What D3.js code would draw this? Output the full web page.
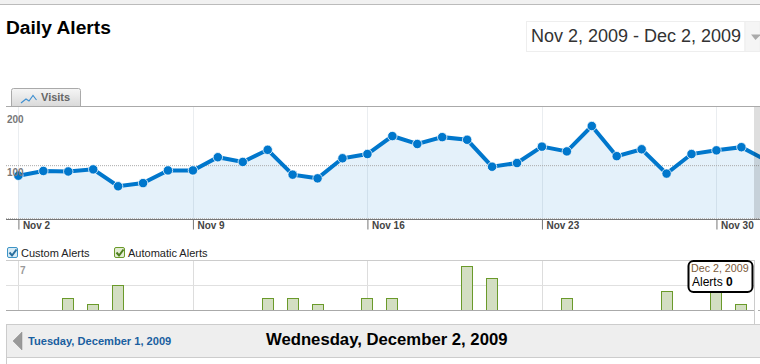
<!DOCTYPE html>
<html>
<head>
<meta charset="utf-8">
<script src="https://cdn.jsdelivr.net/npm/d3@7"></script>
<style>
    html, body { margin: 0; padding: 0; background: #fff; overflow: hidden; }
    svg { display: block; font-family: "Liberation Sans", Arial, sans-serif; }
</style>
</head>
<body>
<div id="chart"></div>
<script>
const days = ["Nov 2", "Nov 3", "Nov 4", "Nov 5", "Nov 6", "Nov 7", "Nov 8", "Nov 9", "Nov 10", "Nov 11",
              "Nov 12", "Nov 13", "Nov 14", "Nov 15", "Nov 16", "Nov 17", "Nov 18", "Nov 19", "Nov 20", "Nov 21",
              "Nov 22", "Nov 23", "Nov 24", "Nov 25", "Nov 26", "Nov 27", "Nov 28", "Nov 29", "Nov 30", "Dec 1", "Dec 2"];
const visits = [81, 90, 89, 93, 61, 67, 91, 91, 116, 107,
                130, 83, 76, 114, 122, 156, 141, 154, 149, 98,
                105, 136, 127, 175, 118, 131, 85, 122, 129, 135, 110];
const alerts = [0, 0, 2, 1, 4, 0, 0, 0, 0, 0,
                2, 2, 1, 0, 2, 2, 0, 0, 7, 5,
                0, 0, 2, 0, 0, 0, 3, 0, 3, 1, 0];
const weekTicks = ["Nov 2", "Nov 9", "Nov 16", "Nov 23", "Nov 30"];
const visitTicks = [100, 200];
const alertTicks = [7];
const visitMax = 212;
const alertMax = 7.78;

const width = 760;
const height = 364;

const svg = d3.select("#chart").append("svg")
              .attr("width", width)
              .attr("height", height);

const defs = svg.append("defs");
const tabGrad = defs.append("linearGradient")
                    .attr("id", "tabGrad")
                    .attr("x1", 0).attr("x2", 0).attr("y1", 0).attr("y2", 1);
tabGrad.append("stop").attr("offset", "0%").attr("stop-color", "#f6f6f6");
tabGrad.append("stop").attr("offset", "100%").attr("stop-color", "#d9d9d9");

const xScale = d3.scalePoint()
                 .domain(days)
                 .range([18.4, 766.3]);

const yScale = d3.scaleLinear()
                 .domain([0, visitMax])
                 .range([218.5, 106.5]);

const barScale = d3.scaleLinear()
                   .domain([0, alertMax])
                   .range([310.5, 260.5]);

// page header
svg.append("rect").attr("width", width).attr("height", 4).attr("fill", "#f1f1f1");
svg.append("line").attr("x1", 0).attr("x2", width).attr("y1", 4.5).attr("y2", 4.5).attr("stroke", "#bbb");

svg.append("text")
    .attr("x", 6).attr("y", 34)
    .attr("font-size", 19.2).attr("font-weight", "bold").attr("fill", "#000")
    .text("Daily Alerts");

// date range picker
svg.append("rect").attr("x", 526.5).attr("y", 21.5).attr("width", 218.5).attr("height", 30)
    .attr("fill", "#fff").attr("stroke", "#eee");
svg.append("rect").attr("x", 745).attr("y", 21.5).attr("width", 15).attr("height", 30)
    .attr("fill", "#f5f5f5").attr("stroke", "#eee");
svg.append("text")
    .attr("x", 531).attr("y", 42)
    .attr("font-size", 18).attr("fill", "#333")
    .text("Nov 2, 2009 - Dec 2, 2009");
svg.append("path").attr("d", "M751,34.5L760,34.5L760,35.5L755.5,40Z").attr("fill", "#aaa");

// Visits tab
svg.append("path")
    .attr("d", "M11.5,106.5V90.5Q11.5,88.5 13.5,88.5H78.5Q80.5,88.5 80.5,90.5V106.5")
    .attr("fill", "url(#tabGrad)").attr("stroke", "#aaa");
svg.append("path")
    .attr("d", "M21,103L26,99L29,101L33,95.5L36.5,100")
    .attr("fill", "none").attr("stroke", "#3d8fd1").attr("stroke-width", 1.1);
svg.append("text")
    .attr("x", 41).attr("y", 101)
    .attr("font-size", 11).attr("font-weight", "bold").attr("fill", "#666")
    .text("Visits");

// visits chart
const area = d3.area()
               .x(d => xScale(d.day))
               .y0(yScale(0))
               .y1(d => yScale(d.value));

const line = d3.line()
               .x(d => xScale(d.day))
               .y(d => yScale(d.value));

const visitData = days.map((d, i) => ({day: d, value: visits[i]}));

svg.append("path").datum(visitData)
    .attr("d", area)
    .attr("fill", "#e4f1fa");

svg.append("g").selectAll("line")
    .data(weekTicks)
    .enter().append("line")
    .attr("x1", d => Math.round(xScale(d)) + 0.5)
    .attr("x2", d => Math.round(xScale(d)) + 0.5)
    .attr("y1", 107).attr("y2", 219)
    .attr("stroke", "#1a3a5a").attr("stroke-opacity", 0.09);

svg.append("line")
    .attr("x1", 6).attr("x2", width)
    .attr("y1", yScale(100)).attr("y2", yScale(100))
    .attr("stroke", "#aaa").attr("stroke-dasharray", "1,1");
svg.append("line")
    .attr("x1", 6).attr("x2", width)
    .attr("y1", yScale(0)).attr("y2", yScale(0))
    .attr("stroke", "#bbb").attr("stroke-dasharray", "1,1");

svg.append("line").attr("x1", 6).attr("x2", width).attr("y1", 106.5).attr("y2", 106.5).attr("stroke", "#aaa");
svg.append("line").attr("x1", 6).attr("x2", width).attr("y1", 219.5).attr("y2", 219.5).attr("stroke", "#777");

svg.append("path").datum(visitData)
    .attr("d", line)
    .attr("fill", "none")
    .attr("stroke", "#0077cc")
    .attr("stroke-width", 4);

svg.append("g").selectAll("circle")
    .data(visitData)
    .enter().append("circle")
    .attr("cx", d => xScale(d.day))
    .attr("cy", d => yScale(d.value))
    .attr("r", 4.7)
    .attr("fill", "#0077cc")
    .attr("stroke", "#fff")
    .attr("stroke-opacity", 0.85)
    .attr("stroke-width", 0.9);

// grey band on the right side
svg.append("rect").attr("x", 754).attr("y", 107).attr("width", 6).attr("height", 112)
    .attr("fill", "#000").attr("fill-opacity", 0.13);

// y axis labels
const yAxis = d3.axisRight(yScale)
                .tickValues(visitTicks)
                .tickSize(0)
                .tickPadding(0);

svg.append("g")
    .attr("transform", "translate(7,6.5)")
    .call(yAxis)
    .call(g => g.select(".domain").remove())
    .call(g => g.selectAll("text")
        .attr("font-family", "Liberation Sans")
        .attr("font-size", 10)
        .attr("font-weight", "bold")
        .attr("fill", "#777"));

// x axis
const xAxis = d3.axisBottom(xScale)
                .tickValues(weekTicks)
                .tickSize(10)
                .tickPadding(0);

svg.append("g")
    .attr("transform", "translate(0,219.5)")
    .call(xAxis)
    .call(g => g.select(".domain").remove())
    .call(g => g.selectAll("line").attr("stroke", "#777"))
    .call(g => g.selectAll("text")
        .attr("font-family", "Liberation Sans")
        .attr("font-size", 10)
        .attr("font-weight", "bold")
        .attr("fill", "#444")
        .attr("text-anchor", "start")
        .attr("x", 4)
        .attr("y", 2));

// legend
function checkbox(x, y, stroke, fill, tick) {
    svg.append("rect").attr("x", x).attr("y", y).attr("width", 10).attr("height", 10).attr("rx", 1.5)
        .attr("fill", fill).attr("stroke", stroke);
    svg.append("path").attr("d", `M${x + 2},${y + 5}L${x + 4.5},${y + 8}L${x + 9},${y + 2}`)
        .attr("fill", "none").attr("stroke", tick).attr("stroke-width", 2);
}
checkbox(7.5, 247.5, "#3d94c6", "#d8ebf5", "#2a6f9e");
svg.append("text").attr("x", 21).attr("y", 257).attr("font-size", 11).attr("fill", "#222").text("Custom Alerts");
checkbox(114.5, 247.5, "#6a9a2a", "#e3ecd3", "#4e7f1e");
svg.append("text").attr("x", 128).attr("y", 257).attr("font-size", 11).attr("fill", "#222").text("Automatic Alerts");

// alerts chart
svg.append("g").selectAll("line")
    .data(weekTicks)
    .enter().append("line")
    .attr("x1", d => Math.round(xScale(d)) + 0.5)
    .attr("x2", d => Math.round(xScale(d)) + 0.5)
    .attr("y1", 260.5).attr("y2", 310.5)
    .attr("stroke", "#ddd");

svg.append("line").attr("x1", 6).attr("x2", 754)
    .attr("y1", barScale(alertMax / 2)).attr("y2", barScale(alertMax / 2)).attr("stroke", "#e0e0e0");
svg.append("line").attr("x1", 6).attr("x2", 754)
    .attr("y1", barScale(alertMax)).attr("y2", barScale(alertMax)).attr("stroke", "#ccc");

svg.append("g").selectAll("rect")
    .data(alerts.map((v, i) => ({day: days[i], value: v})).filter(d => d.value > 0))
    .enter().append("rect")
    .attr("x", d => Math.round(xScale(d.day)) - 5.5)
    .attr("y", d => Math.round(barScale(d.value)) + 0.5)
    .attr("width", 11)
    .attr("height", d => barScale(0) - Math.round(barScale(d.value)) - 0.5)
    .attr("fill", "#d3dec2")
    .attr("stroke", "#6a9a2a");

svg.append("line").attr("x1", 6).attr("x2", 754).attr("y1", 310.5).attr("y2", 310.5).attr("stroke", "#aaa");
svg.append("line").attr("x1", 758).attr("x2", width).attr("y1", 310.5).attr("y2", 310.5).attr("stroke", "#aaa");
svg.append("line").attr("x1", 754.5).attr("x2", 754.5).attr("y1", 260).attr("y2", 325).attr("stroke", "#ccc");

const barAxis = d3.axisRight(barScale)
                  .tickValues(alertTicks)
                  .tickSize(0)
                  .tickPadding(0);

svg.append("g")
    .attr("transform", "translate(20,5)")
    .call(barAxis)
    .call(g => g.select(".domain").remove())
    .call(g => g.selectAll("text")
        .attr("font-family", "Liberation Sans")
        .attr("font-size", 10)
        .attr("font-weight", "bold")
        .attr("fill", "#999"));

// tooltip
svg.append("rect").attr("x", 688.5).attr("y", 261).attr("width", 64).attr("height", 31).attr("rx", 5)
    .attr("fill", "#fff").attr("stroke", "#000").attr("stroke-width", 2);
svg.append("text").attr("x", 691).attr("y", 272)
    .attr("font-size", 10.7).attr("fill", "#7a5a3a").text("Dec 2, 2009");
const tipText = svg.append("text").attr("x", 692).attr("y", 286).attr("font-size", 12).attr("fill", "#000");
tipText.append("tspan").text("Alerts ");
tipText.append("tspan").attr("font-weight", "bold").text(alerts[alerts.length - 1]);

// day navigation
svg.append("rect").attr("x", 6.5).attr("y", 324.5).attr("width", 760).attr("height", 33)
    .attr("fill", "#eee").attr("stroke", "#ccc");
svg.append("line").attr("x1", 6.5).attr("x2", 6.5).attr("y1", 357).attr("y2", height).attr("stroke", "#ccc");
svg.append("path").attr("d", "M22,332L13,341L22,350Z").attr("fill", "#999").attr("stroke", "#888").attr("stroke-width", 0.5);
svg.append("text").attr("x", 28).attr("y", 345)
    .attr("font-size", 11.1).attr("font-weight", "bold").attr("fill", "#1a5fa0")
    .text("Tuesday, December 1, 2009");
svg.append("text").attr("x", 266).attr("y", 345)
    .attr("font-size", 16.7).attr("font-weight", "bold").attr("fill", "#000")
    .text("Wednesday, December 2, 2009");
</script>
</body>
</html>
